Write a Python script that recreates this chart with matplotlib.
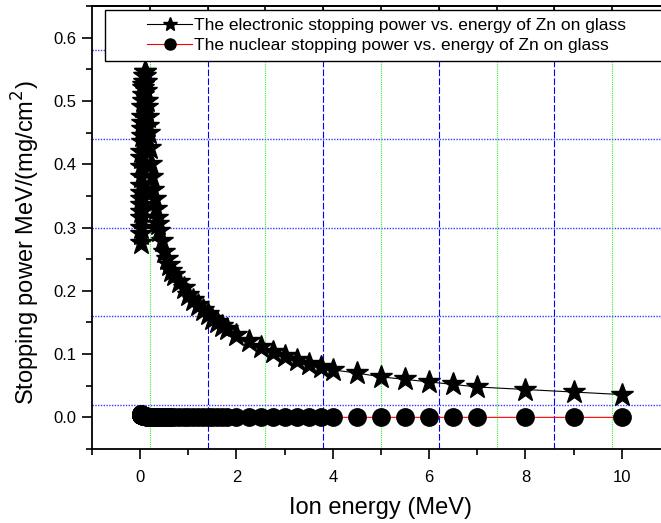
import numpy as np
import matplotlib
matplotlib.use("Agg")
import matplotlib.pyplot as plt
from matplotlib.lines import Line2D
from matplotlib.patches import Rectangle

plt.rcParams['font.family'] = ['Liberation Sans', 'DejaVu Sans']

# ion energy (MeV)
energy = [0.010, 0.011, 0.012, 0.013, 0.014, 0.015, 0.016, 0.017, 0.018, 0.020,
          0.0225, 0.025, 0.0275, 0.030, 0.0325, 0.035, 0.0375, 0.040, 0.045, 0.050,
          0.055, 0.060, 0.065, 0.070, 0.080, 0.090, 0.100,
          0.11, 0.12, 0.13, 0.14, 0.15, 0.16, 0.17, 0.18, 0.20,
          0.225, 0.25, 0.275, 0.30, 0.325, 0.35, 0.375, 0.40, 0.45, 0.50,
          0.55, 0.60, 0.65, 0.70, 0.80, 0.90,
          1.0, 1.1, 1.2, 1.3, 1.4, 1.5, 1.6, 1.7, 1.8, 2.0,
          2.25, 2.5, 2.75, 3.0, 3.25, 3.5, 3.75, 4.0,
          4.5, 5.0, 5.5, 6.0, 6.5, 7.0, 8.0, 9.0, 10.0]

# electronic stopping power MeV/(mg/cm2)
s_elec = [0.275, 0.290, 0.300, 0.315, 0.325, 0.335, 0.345, 0.355, 0.365, 0.380,
          0.395, 0.410, 0.420, 0.435, 0.445, 0.455, 0.465, 0.475, 0.490, 0.500,
          0.510, 0.520, 0.525, 0.530, 0.540, 0.545, 0.545,
          0.540, 0.530, 0.515, 0.500, 0.490, 0.475, 0.460, 0.450, 0.425,
          0.400, 0.380, 0.360, 0.345, 0.330, 0.315, 0.305, 0.295, 0.278, 0.262,
          0.250, 0.240, 0.232, 0.225, 0.214, 0.204,
          0.194, 0.185, 0.177, 0.170, 0.163, 0.156, 0.150, 0.145, 0.140, 0.130,
          0.120, 0.111, 0.103, 0.097, 0.091, 0.085, 0.080, 0.075,
          0.070, 0.064, 0.060, 0.056, 0.052, 0.048, 0.044, 0.040, 0.036]

# nuclear stopping power MeV/(mg/cm2)
s_nucl = [0.005, 0.005, 0.005, 0.005, 0.004, 0.004, 0.004, 0.004, 0.004, 0.004,
          0.004, 0.003, 0.003, 0.003, 0.003, 0.003, 0.003, 0.003, 0.003, 0.002,
          0.002, 0.002, 0.002, 0.002, 0.002, 0.002, 0.002,
          0.002, 0.002, 0.002, 0.001, 0.001, 0.001, 0.001, 0.001, 0.001,
          0.001, 0.001, 0.001, 0.001, 0.001, 0.001, 0.001, 0.001, 0.001, 0.001,
          0.001, 0.001, 0.001, 0.000, 0.000, 0.000,
          0.000, 0.000, 0.000, 0.000, 0.000, 0.000, 0.000, 0.000, 0.000, 0.000,
          0.000, 0.000, 0.000, 0.000, 0.000, 0.000, 0.000, 0.000,
          0.000, 0.000, 0.000, 0.000, 0.000, 0.000, 0.000, 0.000, 0.000]

label_elec = "The electronic stopping power vs. energy of Zn on glass"
label_nucl = "The nuclear stopping power vs. energy of Zn on glass"

# Origin style grid positions
grid_h = [0.02, 0.16, 0.30, 0.44, 0.58]
grid_v_major = [1.4, 3.8, 6.2, 8.6]
grid_v_minor = [0.2, 2.6, 5.0, 7.4, 9.8]

W, H = 661, 523
fig = plt.figure(figsize=(W / 100, H / 100), dpi=100)
ax = fig.add_axes([92 / W, 74 / H, 578 / W, 443 / H])

for y in grid_h:
    ax.axhline(y, color='#3a3aff', ls=(0, (1, 1)), lw=1.0, zorder=0)
for x in grid_v_major:
    ax.axvline(x, color='#0000ff', ls=(0, (6, 2)), lw=0.8, zorder=0)
for x in grid_v_minor:
    ax.axvline(x, color='#33ee33', ls=(0, (1, 1)), lw=0.8, zorder=0)

ax.plot(energy, s_nucl, color='red', lw=0.8, marker='o', ms=12.5,
        mfc='black', mec='black', zorder=3)
ax.plot(energy, s_elec, color='black', lw=0.8, marker='*', ms=17,
        mfc='black', mec='black', zorder=4)

ax.set_xlim(-1, 11)
ax.set_ylim(-0.05, 0.65)
ax.set_xticks([0, 2, 4, 6, 8, 10])
ax.set_xticks(np.arange(-1, 11.5, 1), minor=True)
ax.set_yticks([0.0, 0.1, 0.2, 0.3, 0.4, 0.5, 0.6])
ax.set_yticks(np.arange(-0.05, 0.66, 0.05), minor=True)
ax.set_yticklabels(['0.0', '0.1', '0.2', '0.3', '0.4', '0.5', '0.6'])
ax.tick_params(which='both', direction='out', top=False, right=False,
               width=1.2, labelsize=12)
ax.tick_params(which='major', length=7, pad=4)
ax.tick_params(axis='x', which='major', pad=8)
ax.tick_params(which='minor', length=4)
for s in ax.spines.values():
    s.set_linewidth(1.3)

top = ax.secondary_xaxis('top')
top.set_xticks(grid_v_major)
top.set_xticks(grid_v_minor, minor=True)
top.tick_params(which='both', direction='in', width=1.2, labeltop=False)
top.tick_params(which='major', length=7)
top.tick_params(which='minor', length=4)
top.spines['top'].set_linewidth(1.3)

ax.set_xlabel('Ion energy (MeV)', fontsize=17)
ax.xaxis.set_label_coords(0.5, -0.108)
ax.set_ylabel('Stopping power MeV/(mg/cm$^2$)', fontsize=17)
ax.yaxis.set_label_coords(-0.087, 0.465)

# legend box
fig.patches.append(Rectangle((105 / W, (H - 61) / H), 600 / W, 51 / H,
                             transform=fig.transFigure, facecolor='white',
                             edgecolor='black', lw=1.0, zorder=5))
handles = [Line2D([], [], color='black', lw=0.8, marker='*', ms=10, mfc='black'),
           Line2D([], [], color='red', lw=0.8, marker='o', ms=8, mfc='black', mec='black')]
leg = fig.legend(handles, [label_elec, label_nucl], loc='upper left',
                 bbox_to_anchor=(147 / W, (H - 18) / H), frameon=False,
                 fontsize=12.5, handlelength=2.6, handletextpad=0.1,
                 labelspacing=0.25, borderpad=0.0, borderaxespad=0.0)
leg.set_zorder(6)

fig.savefig('out.png', dpi=100)
